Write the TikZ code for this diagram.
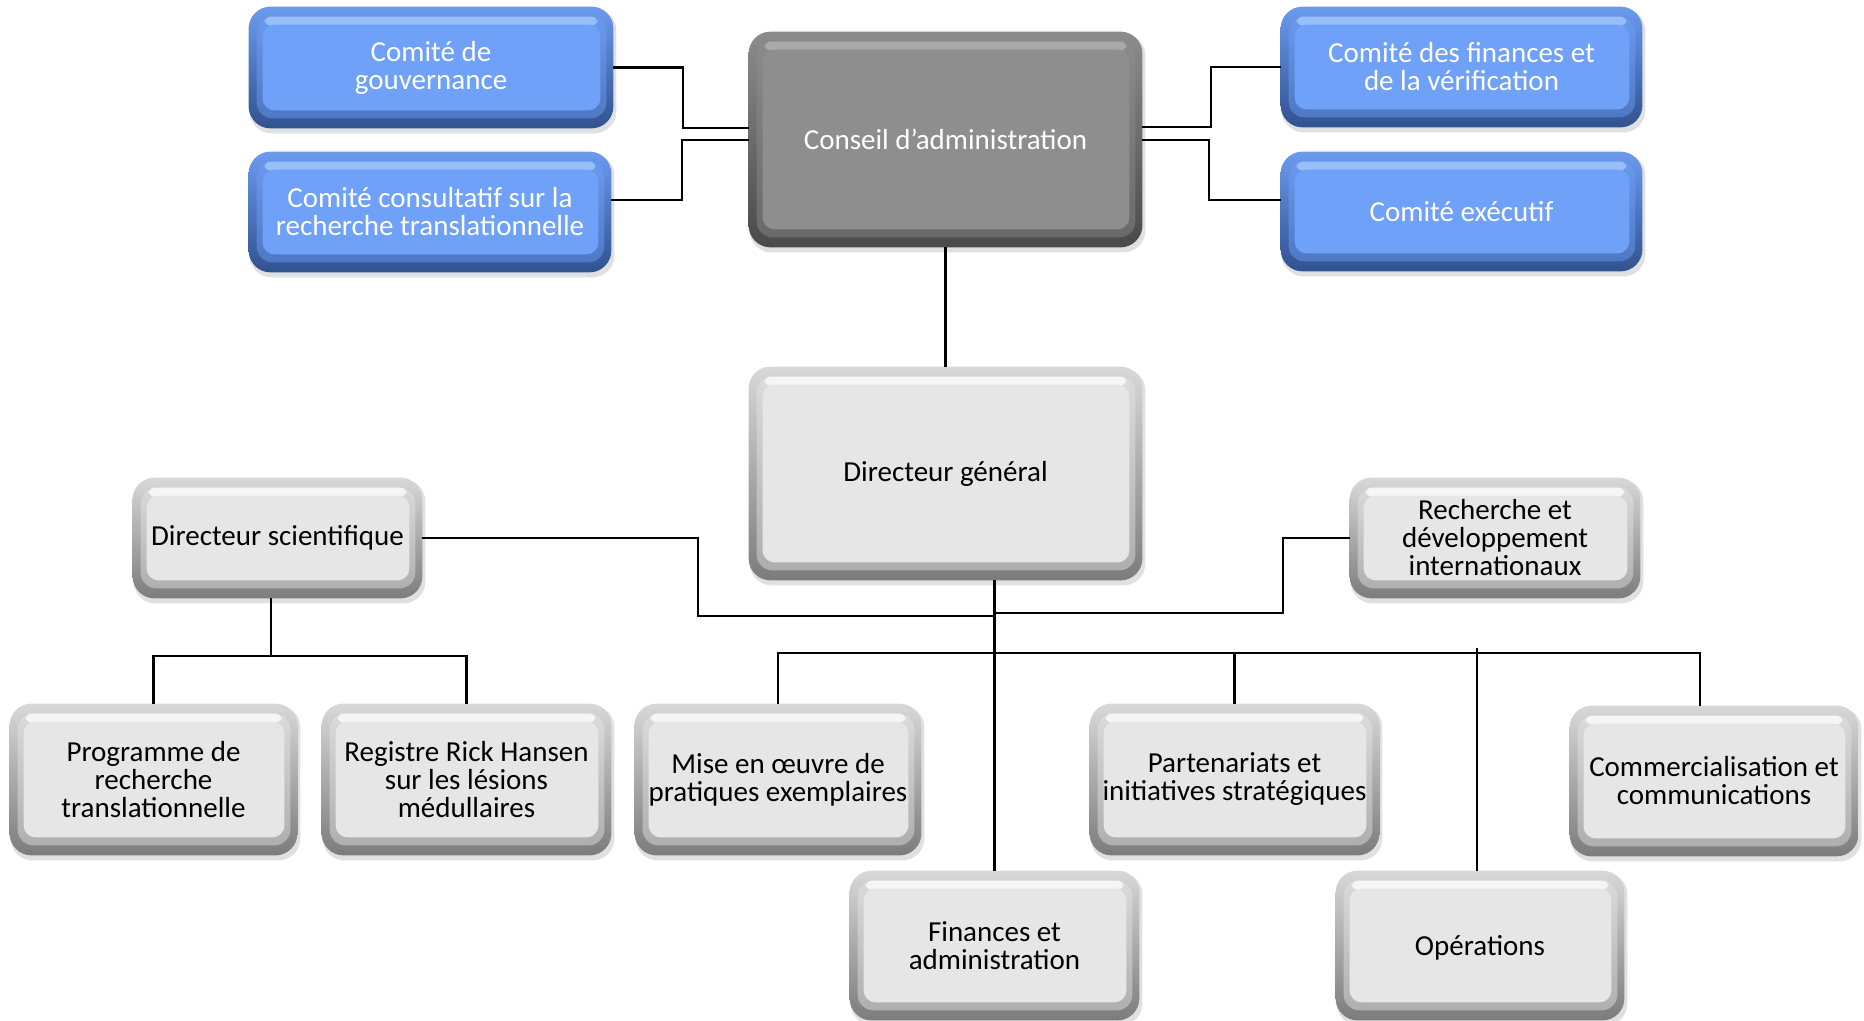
\documentclass[tikz,border=0pt]{standalone}
\usepackage{fontspec}
\setmainfont{Carlito}
\usetikzlibrary{calc}
\pgfdeclarelayer{background}
\pgfsetlayers{background,main}
\definecolor{lface}{HTML}{E6E6E6}
\definecolor{lrimT}{HTML}{D8D8D8}
\definecolor{lrimB}{HTML}{7C7C7C}
\definecolor{lhi}{HTML}{FFFFFF}
\definecolor{bface}{HTML}{6FA1F9}
\definecolor{brimT}{HTML}{6B9AEE}
\definecolor{brimB}{HTML}{30528F}
\definecolor{bhi}{HTML}{A9CBFF}
\definecolor{gface}{HTML}{8E8E8E}
\definecolor{grimT}{HTML}{8C8C8C}
\definecolor{grimB}{HTML}{4A4A4A}
\definecolor{ghi}{HTML}{B4B4B4}
\newcommand\bevelbox[4]{% name, rim top, rim bottom, face + highlight prefix
  \fill[black, opacity=0.12, rounded corners=11pt] ([shift={(0.5pt,-2.5pt)}]#1.south west) rectangle ([shift={(1.5pt,-1pt)}]#1.north east);
  \shade[rounded corners=11pt, top color=#2, bottom color=#3] (#1.south west) rectangle (#1.north east);
  \fill[#4face, opacity=0.45, rounded corners=8pt] ([shift={(4pt,5pt)}]#1.south west) rectangle ([shift={(-3.5pt,-5pt)}]#1.north east);
  \fill[#4hi, opacity=0.75, rounded corners=3pt] ([shift={(8pt,-9.5pt)}]#1.north west) rectangle ([shift={(-8pt,-5pt)}]#1.north east);
  \fill[#4face, rounded corners=6pt] ([shift={(7pt,9pt)}]#1.south west) rectangle ([shift={(-6.5pt,-9pt)}]#1.north east);
}
\tikzset{
  box/.style={rectangle, inner sep=0pt, align=center, font=\fontsize{14.5}{14}\selectfont, text=black},
  bluebox/.style={box, text=white},
  greybox/.style={box, text=white},
  sz/.style 2 args={minimum width=#1*0.5pt, minimum height=#2*0.5pt},
  link/.style={line width=1.3pt, draw=black}
}
\begin{document}
\begin{tikzpicture}[x=0.5pt, y=-0.5pt]
\useasboundingbox (0,0) rectangle (1864,1021);
% nodes
\node[bluebox, sz={364}{121}] (gov)  at (431,67.5)  {Comité de\\gouvernance};
\node[bluebox, sz={362}{120}] (cons) at (430,212)   {Comité consultatif sur la\\recherche translationnelle};
\node[bluebox, sz={361}{120}] (fin)  at (1461.5,67) {Comité des finances et\\de la vérification};
\node[bluebox, sz={361}{119}] (exe)  at (1461.5,211.5) {Comité exécutif};
\node[greybox, sz={393}{215}] (cda)  at (945.5,139.5) {Conseil d’administration};
\node[box, sz={393}{213}] (dg)   at (945.5,473.5) {Directeur général};
\node[box, sz={289}{120}] (ds)   at (277.5,538)   {Directeur scientifique};
\node[box, sz={290}{120}] (rd)   at (1495,538)    {Recherche et\\développement\\internationaux};
\node[box, sz={287}{151}] (prog) at (153.5,779.5) {Programme de\\recherche\\translationnelle};
\node[box, sz={289}{151}] (reg)  at (466.5,779.5) {Registre Rick Hansen\\sur les lésions\\médullaires};
\node[box, sz={286}{151}] (mise) at (778,779.5)   {Mise en œuvre de\\pratiques exemplaires};
\node[box, sz={289}{151}] (part) at (1234.5,779.5) {Partenariats et\\initiatives stratégiques};
\node[box, sz={288}{150}] (comm) at (1714,781)    {Commercialisation et\\communications};
\node[box, sz={289}{149}] (fa)   at (994.5,945.5) {Finances et\\administration};
\node[box, sz={288}{149}, text depth=0pt] (ops)  at (1480,945.5)  {Opérations};
% box bodies
\begin{pgfonlayer}{background}
  \foreach \n in {gov,cons,fin,exe} {\bevelbox{\n}{brimT}{brimB}{b}}
  \bevelbox{cda}{grimT}{grimB}{g}
  \foreach \n in {dg,ds,rd,prog,reg,mise,part,comm,fa,ops} {\bevelbox{\n}{lrimT}{lrimB}{l}}
\end{pgfonlayer}
% helper coordinates
\coordinate (g1) at (683,128);
\coordinate (c2a) at (682,200);
\coordinate (c2b) at (682,140);
\coordinate (r1) at (1211,127);
\coordinate (r2) at (1209,140);
\coordinate (r2b) at (1209,200);
\coordinate (d1) at (698,616);
\coordinate (e1) at (1283,613);
\coordinate (bus) at (0,653);
\coordinate (cm) at (1700,0);
\coordinate (o1) at (1477,648);
\coordinate (s1) at (271,656);
% connectors
\draw[link] (gov.east) -| (g1) -- (g1 -| cda.west);
\draw[link] (cons.east |- c2a) -- (c2a) -- (c2b) -- (c2b -| cda.west);
\draw[link] (r1 -| cda.east) -- (r1) |- (fin.west);
\draw[link] (r2 -| cda.east) -- (r2) -- (r2b) -- (r2b -| exe.west);
\draw[link] (cda) -- (dg);
\draw[link] (dg.south -| fa.north) -- (fa.north);
\draw[link] (ds.east) -| (d1) -- (d1 -| fa.north);
\draw[link] (rd.west) -| (e1) -- (e1 -| fa.north);
\draw[link] (mise.north) -- (mise.north |- bus) -- (cm |- bus) -- (cm |- comm.north);
\draw[link] (part.north) -- (part.north |- bus);
\draw[link] (o1) -- (o1 |- ops.north);
\draw[link] (ds.south -| s1) -- (s1);
\draw[link] (prog.north) -- (prog.north |- s1) -- (reg.north |- s1) -- (reg.north);
\end{tikzpicture}
\end{document}
